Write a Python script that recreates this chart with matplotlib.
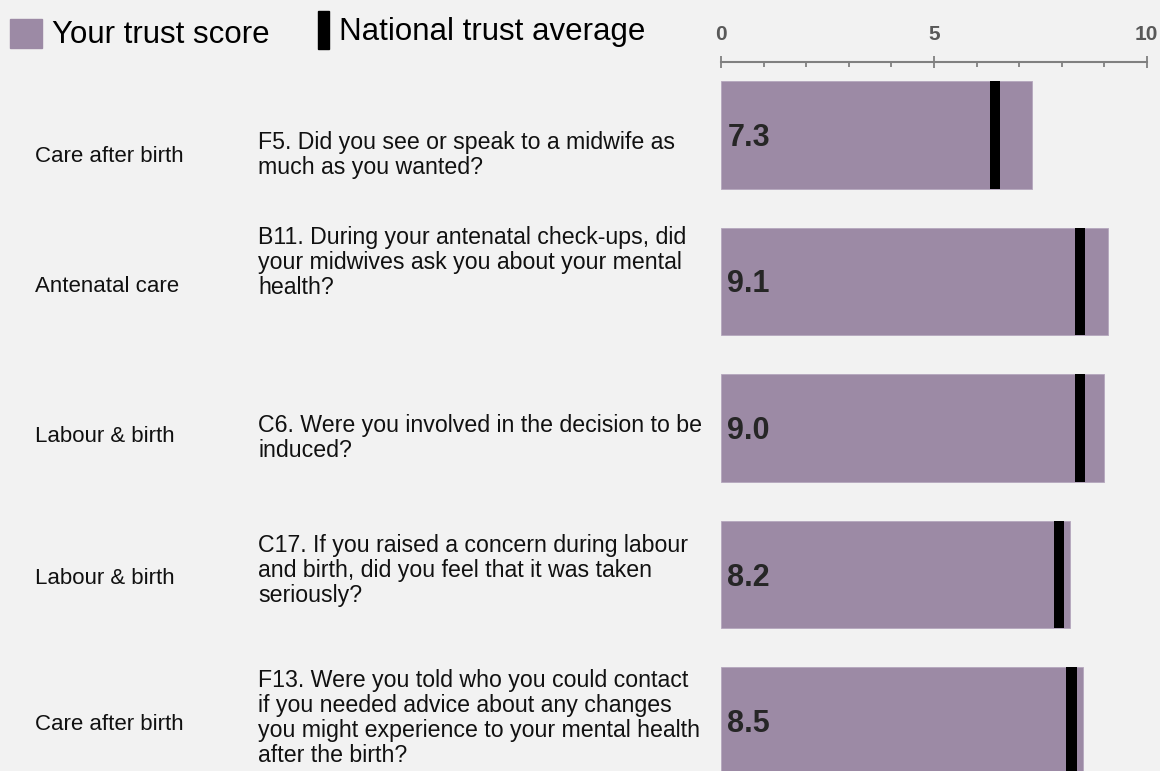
import matplotlib.pyplot as plt
import matplotlib.transforms as mtransforms
from matplotlib.patches import Rectangle

plt.rcParams['font.family'] = ['Liberation Sans', 'DejaVu Sans']

# data
sections = ['Care after birth', 'Antenatal care', 'Labour & birth',
            'Labour & birth', 'Care after birth']
questions = [
    'F5. Did you see or speak to a midwife as\nmuch as you wanted?',
    'B11. During your antenatal check-ups, did\nyour midwives ask you about your mental\nhealth?',
    'C6. Were you involved in the decision to be\ninduced?',
    'C17. If you raised a concern during labour\nand birth, did you feel that it was taken\nseriously?',
    'F13. Were you told who you could contact\nif you needed advice about any changes\nyou might experience to your mental health\nafter the birth?',
]
trust_score = [7.3, 9.1, 9.0, 8.2, 8.5]
national_avg = [6.43, 8.43, 8.43, 7.93, 8.23]
score_labels = ['7.3', '9.1', '9.0', '8.2', '8.5']

W, H = 1160, 771
bg = '#f2f2f2'
bar_col = '#9c8aa5'

fig = plt.figure(figsize=(W / 100, H / 100), dpi=100, facecolor=bg)

x0, x1 = 721.3, 1146.7
row_px = 146.5
first_c = 135
ax = fig.add_axes([x0 / W, 0, (x1 - x0) / W, 1])
ax.set_facecolor('none')
ax.set_xlim(0, 10)
ax.set_ylim((H - first_c) / row_px, -first_c / row_px)
ax.axis('off')

ypos = list(range(len(trust_score)))
ax.barh(ypos, trust_score, height=0.737, color=bar_col, edgecolor='#b5a7bd',
        linewidth=0.6)
ax.barh(ypos, [0.24] * len(ypos), left=[v - 0.12 for v in national_avg],
        height=0.737, color='black', linewidth=0)

for i, s in enumerate(score_labels):
    ax.text(0.14, i + 3 / row_px, s, fontsize=22, fontweight='bold',
            color='#262626', va='center', ha='left')

# text columns on the left (x in figure px, y follows rows)
tr = mtransforms.blended_transform_factory(fig.transFigure, ax.transData)
sec_dy = [22, 5, 8, 4, 3]
q_dy = [20, -19, 10, -4, -3]
for i in ypos:
    ax.text(35 / W, i + sec_dy[i] / row_px, sections[i], transform=tr,
            fontsize=16, color='#111111', va='center', ha='left')
    ax.text(258 / W, i + q_dy[i] / row_px, questions[i], transform=tr,
            fontsize=16.7, color='#111111', va='center', ha='left',
            linespacing=1.1)

# scale axis at top
sx = fig.add_axes([x0 / W, 1 - 62 / H, (x1 - x0) / W, 1e-4])
sx.set_facecolor('none')
sx.set_xlim(0, 10)
sx.set_yticks([])
for k in ['top', 'left', 'right']:
    sx.spines[k].set_visible(False)
sx.spines['bottom'].set_color('#808080')
sx.spines['bottom'].set_linewidth(1.5)
sx.set_xticks([0, 5, 10])
sx.set_xticks(range(11), minor=True)
sx.tick_params(axis='x', which='major', direction='inout', length=8,
               width=1.3, color='#808080', bottom=True, top=False,
               labelbottom=False, labeltop=True, pad=9,
               labelsize=15, labelcolor='#595959')
sx.tick_params(axis='x', which='minor', direction='out', length=3.6,
               width=1.3, color='#808080', bottom=True, top=False)
for t in sx.get_xticklabels():
    t.set_fontweight('bold')

# legend
fig.patches.append(Rectangle((10 / W, 1 - 48 / H), 32 / W, 29 / H,
                             transform=fig.transFigure, color=bar_col))
fig.text(52 / W, 1 - 35 / H, 'Your trust score', fontsize=22.5,
         color='black', va='center', ha='left')
fig.patches.append(Rectangle((318 / W, 1 - 49 / H), 11 / W, 38 / H,
                             transform=fig.transFigure, color='black'))
fig.text(339 / W, 1 - 32 / H, 'National trust average', fontsize=22.5,
         color='black', va='center', ha='left')

fig.savefig('out.png', dpi=100, facecolor=bg)
